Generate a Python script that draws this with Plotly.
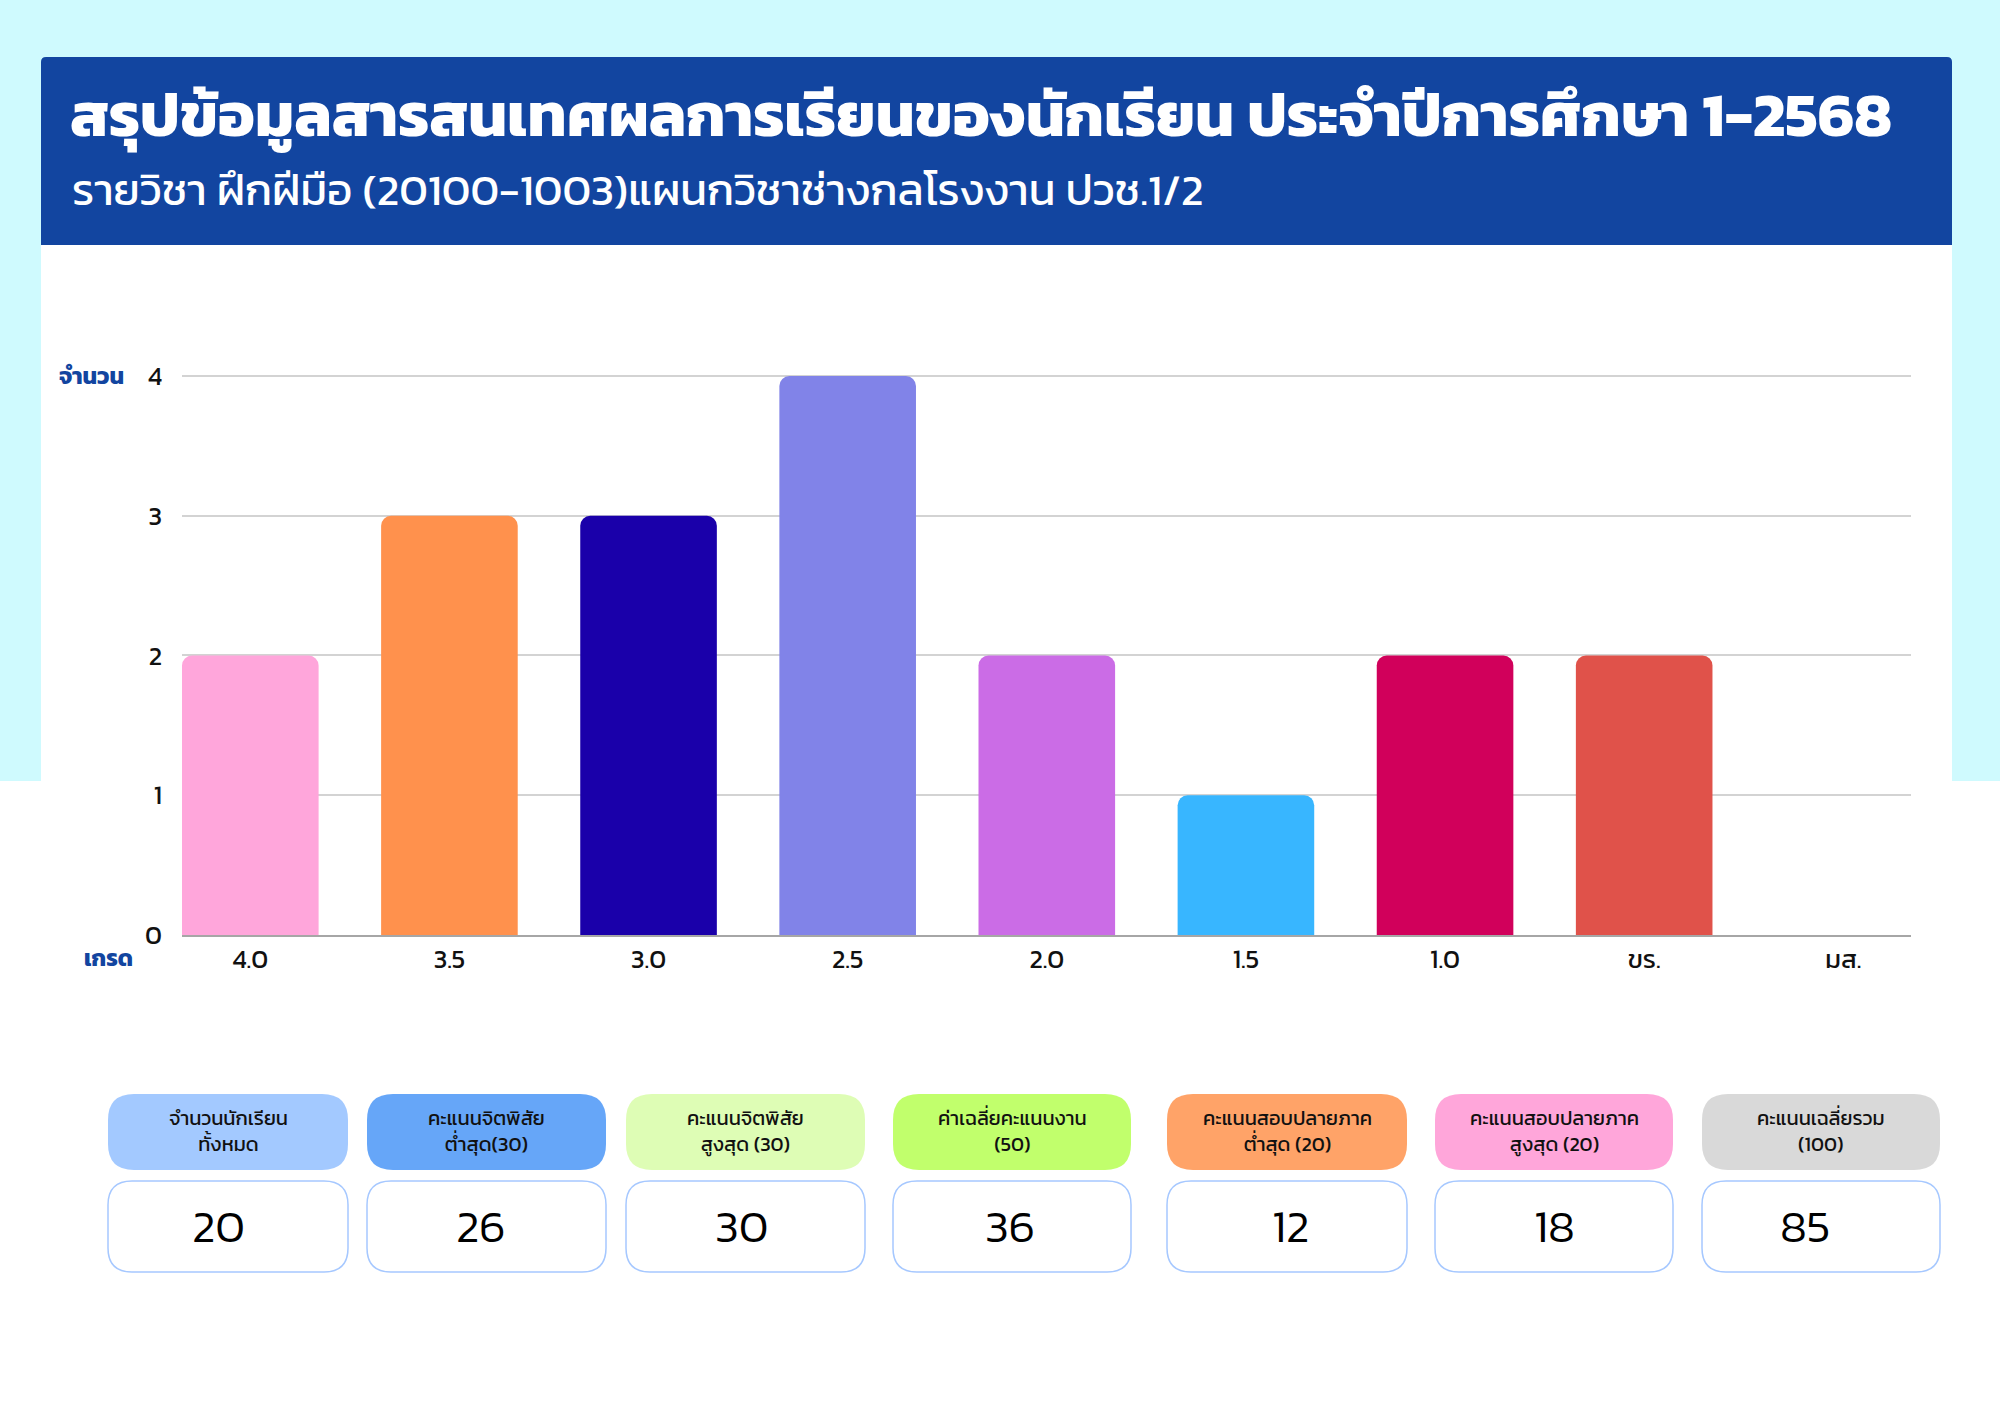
import plotly.graph_objects as go

W, H = 2000, 1414

# ---- data ----
grades = ["4.0", "3.5", "3.0", "2.5", "2.0", "1.5", "1.0", "ขร.", "มส."]
counts = [2, 3, 3, 4, 2, 1, 2, 2, 0]
bar_colors = ["#FFA6DB", "#FF914D", "#1A00AA", "#8183E8", "#CB6CE6",
              "#38B6FF", "#D1005B", "#E0524A", "#BBBBBB"]
y_ticks = [0, 1, 2, 3, 4]

stat_labels = ["จำนวนนักเรียน<br>ทั้งหมด", "คะแนนจิตพิสัย<br>ต่ำสุด(30)",
               "คะแนนจิตพิสัย<br>สูงสุด (30)", "ค่าเฉลี่ยคะแนนงาน<br>(50)",
               "คะแนนสอบปลายภาค<br>ต่ำสุด (20)", "คะแนนสอบปลายภาค<br>สูงสุด (20)",
               "คะแนนเฉลี่ยรวม<br>(100)"]
stat_values = [20, 26, 30, 36, 12, 18, 85]
stat_colors = ["#A3C9FF", "#66A6F8", "#DEFDB5", "#C1FF6C", "#FFA368", "#FFA6DA", "#D9D9D9"]

title = "สรุปข้อมูลสารสนเทศผลการเรียนของนักเรียน ประจำปีการศึกษา 1-2568"
subtitle = "รายวิชา ฝึกฝีมือ (20100-1003)แผนกวิชาช่างกลโรงงาน ปวช.1/2"

FONT = "Kanit, Prompt, 'Noto Sans Thai', 'Noto Sans', sans-serif"

def X(x):
    return x / W

def Y(y):
    return 1 - y / H

def rrect(x0, y0, x1, y1, r):
    return (f"M {X(x0+r)},{Y(y0)} L {X(x1-r)},{Y(y0)} Q {X(x1)},{Y(y0)} {X(x1)},{Y(y0+r)} "
            f"L {X(x1)},{Y(y1-r)} Q {X(x1)},{Y(y1)} {X(x1-r)},{Y(y1)} "
            f"L {X(x0+r)},{Y(y1)} Q {X(x0)},{Y(y1)} {X(x0)},{Y(y1-r)} "
            f"L {X(x0)},{Y(y0+r)} Q {X(x0)},{Y(y0)} {X(x0+r)},{Y(y0)} Z")

fig = go.Figure()
fig.add_trace(go.Bar(
    x=grades, y=counts,
    marker=dict(color=bar_colors, cornerradius=10, line=dict(width=0)),
    width=0.686,
    hoverinfo="x+y",
))

shapes = []
# cyan background (top portion)
shapes.append(dict(type="rect", xref="paper", yref="paper", x0=0, x1=1, y0=Y(781), y1=1,
                   fillcolor="#CFFAFE", line=dict(width=0), layer="below"))
# white panel
shapes.append(dict(type="rect", xref="paper", yref="paper", x0=X(41), x1=X(1952), y0=Y(800), y1=Y(150),
                   fillcolor="#FFFFFF", line=dict(width=0), layer="below"))
# blue header
shapes.append(dict(type="path", xref="paper", yref="paper",
                   path=(f"M {X(41)},{Y(245)} L {X(41)},{Y(62)} Q {X(41)},{Y(57)} {X(46)},{Y(57)} "
                         f"L {X(1947)},{Y(57)} Q {X(1952)},{Y(57)} {X(1952)},{Y(62)} L {X(1952)},{Y(245)} Z"),
                   fillcolor="#1245A0", line=dict(width=0), layer="below"))

annotations = []
annotations.append(dict(xref="paper", yref="paper", x=X(68), y=Y(114), text=f"<b>{title}</b>",
                        showarrow=False, xanchor="left", yanchor="middle",
                        font=dict(family=FONT, size=62, color="#FFFFFF")))
annotations.append(dict(xref="paper", yref="paper", x=X(70), y=Y(190), text=subtitle,
                        showarrow=False, xanchor="left", yanchor="middle",
                        font=dict(family=FONT, size=44, color="#FFFFFF")))
annotations.append(dict(xref="paper", yref="paper", x=X(57), y=Y(376), text="<b>จำนวน</b>",
                        showarrow=False, xanchor="left", yanchor="middle",
                        font=dict(family=FONT, size=23, color="#1245A0")))
annotations.append(dict(xref="paper", yref="paper", x=X(82), y=Y(958), text="<b>เกรด</b>",
                        showarrow=False, xanchor="left", yanchor="middle",
                        font=dict(family=FONT, size=23, color="#1245A0")))

# stat boxes
box_x = [(108, 348), (367, 606), (626, 865), (893, 1131), (1167, 1407), (1435, 1673), (1702, 1940)]
num_dx = [-10, -6, -4, -2, 3, 0, -16]
for (x0, x1), dx, lab, val, col in zip(box_x, num_dx, stat_labels, stat_values, stat_colors):
    shapes.append(dict(type="path", xref="paper", yref="paper", path=rrect(x0, 1094, x1, 1170, 26),
                       fillcolor=col, line=dict(width=0)))
    shapes.append(dict(type="path", xref="paper", yref="paper", path=rrect(x0, 1181, x1, 1272, 24),
                       fillcolor="#FFFFFF", line=dict(color="#A6C8FF", width=1.5)))
    annotations.append(dict(xref="paper", yref="paper", x=X((x0 + x1) / 2), y=Y(1131), text=lab,
                            showarrow=False, xanchor="center", yanchor="middle",
                            font=dict(family=FONT, size=20, color="#111111")))
    annotations.append(dict(xref="paper", yref="paper", x=X((x0 + x1) / 2 + dx), y=Y(1225), text=str(val),
                            showarrow=False, xanchor="center", yanchor="middle",
                            font=dict(family=FONT, size=46, color="#000000", weight=300)))

y_top = 4.03
px_per_unit = (935 - 376) / 4.0
fig.update_layout(
    width=W, height=H,
    margin=dict(l=0, r=0, t=0, b=0, autoexpand=False),
    paper_bgcolor="#FFFFFF", plot_bgcolor="rgba(0,0,0,0)",
    showlegend=False,
    shapes=shapes, annotations=annotations,
    font=dict(family=FONT, color="#111111"),
    xaxis=dict(domain=[X(182), X(1911)], range=[-0.343, 8.34], type="category",
               showgrid=False, showline=True, linecolor="#A6A6A6", linewidth=2,
               ticks="", tickfont=dict(size=26, color="#111111"), fixedrange=True,
               automargin=False),
    yaxis=dict(domain=[Y(935), Y(935 - px_per_unit * y_top)], range=[0, y_top], tickvals=y_ticks,
               showgrid=True, gridcolor="#D3D3D3", gridwidth=1.5, zeroline=False,
               showline=False, ticks="", ticklabelstandoff=19,
               tickfont=dict(size=26, color="#111111"), fixedrange=True, automargin=False),
)

fig.write_html("out.html", config={"displayModeBar": False},
               post_script="document.body.style.margin='0';")
